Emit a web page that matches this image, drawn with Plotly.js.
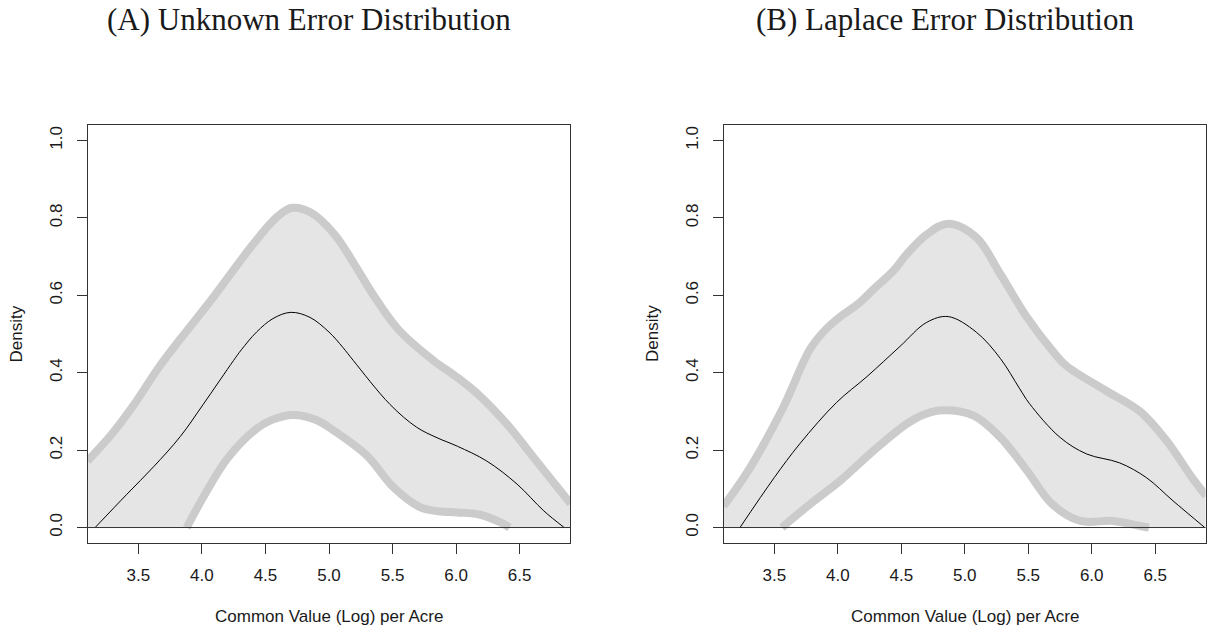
<!DOCTYPE html>
<html>
<head>
<meta charset="utf-8">
<script src="https://cdn.plot.ly/plotly-3.0.1.min.js"></script>
<style>html,body{margin:0;padding:0;background:#fff;}#chart{width:1212px;height:633px;}</style>
</head>
<body>
<div id="chart"></div>
<script>
// ---------- Data ----------
const panelTitles = ["(A) Unknown Error Distribution", "(B) Laplace Error Distribution"];
const xTickVals = [3.5, 4.0, 4.5, 5.0, 5.5, 6.0, 6.5];
const xTickText = ["3.5", "4.0", "4.5", "5.0", "5.5", "6.0", "6.5"];
const yTickVals = [0, 0.2, 0.4, 0.6, 0.8, 1.0];
const yTickText = ["0.0", "0.2", "0.4", "0.6", "0.8", "1.0"];
const xLabel = "Common Value (Log) per Acre";
const yLabel = "Density";

// Panel A: Unknown error distribution
const aMeanX = [3.16, 3.41, 3.62, 3.83, 4.01, 4.25, 4.31, 4.43, 4.56, 4.70, 4.85, 5.00, 5.11, 5.19, 5.48, 5.69, 5.85, 6.01, 6.24, 6.48, 6.69, 6.85];
const aMeanY = [0.000, 0.086, 0.157, 0.235, 0.318, 0.432, 0.459, 0.505, 0.540, 0.556, 0.543, 0.505, 0.465, 0.432, 0.318, 0.259, 0.232, 0.210, 0.172, 0.112, 0.043, 0.000];
const aUpperX = [3.10, 3.30, 3.46, 3.67, 3.83, 4.09, 4.41, 4.60, 4.71, 4.85, 5.04, 5.20, 5.35, 5.55, 5.82, 6.00, 6.17, 6.40, 6.61, 6.90];
const aUpperY = [0.172, 0.245, 0.315, 0.418, 0.487, 0.595, 0.735, 0.805, 0.826, 0.815, 0.759, 0.680, 0.600, 0.510, 0.432, 0.390, 0.345, 0.267, 0.181, 0.062];
const aLowerX = [3.88, 4.04, 4.20, 4.41, 4.55, 4.72, 4.90, 5.04, 5.30, 5.51, 5.72, 5.86, 6.01, 6.19, 6.35, 6.42];
const aLowerY = [0.000, 0.095, 0.178, 0.250, 0.278, 0.291, 0.278, 0.250, 0.185, 0.103, 0.052, 0.042, 0.039, 0.033, 0.013, 0.000];

// Panel B: Laplace error distribution
const bMeanX = [3.23, 3.50, 3.70, 3.99, 4.23, 4.49, 4.70, 4.87, 5.09, 5.28, 5.43, 5.51, 5.75, 5.96, 6.22, 6.43, 6.64, 6.89];
const bMeanY = [0.000, 0.129, 0.216, 0.323, 0.390, 0.468, 0.530, 0.545, 0.505, 0.437, 0.360, 0.320, 0.233, 0.190, 0.167, 0.129, 0.069, 0.000];
const bUpperX = [3.10, 3.31, 3.57, 3.78, 3.90, 4.02, 4.15, 4.28, 4.44, 4.54, 4.70, 4.87, 5.09, 5.28, 5.49, 5.69, 5.80, 6.11, 6.38, 6.59, 6.79, 6.90];
const bUpperY = [0.055, 0.155, 0.310, 0.460, 0.510, 0.545, 0.575, 0.615, 0.664, 0.705, 0.757, 0.785, 0.750, 0.655, 0.543, 0.457, 0.418, 0.354, 0.300, 0.224, 0.129, 0.082];
const bLowerX = [3.56, 3.78, 4.02, 4.28, 4.54, 4.68, 4.83, 5.07, 5.28, 5.49, 5.69, 5.91, 6.17, 6.38, 6.45];
const bLowerY = [0.000, 0.060, 0.121, 0.198, 0.267, 0.292, 0.303, 0.289, 0.233, 0.147, 0.060, 0.017, 0.017, 0.004, 0.000];

// ---------- Styles ----------
const W = 1212, H = 633;
const bandFill = "#e5e5e5", bandLine = "#cbcbcb", axisCol = "#333333", textCol = "#1a1a1a";
const sansFont = "Liberation Sans, Arial, sans-serif";
const serifFont = "Liberation Serif, Times New Roman, serif";

function panelTraces(upX, upY, loX, loY, mX, mY, xa, ya) {
  return [
    {x: upX, y: upY, xaxis: xa, yaxis: ya, type: "scatter", mode: "lines",
     fill: "tozeroy", fillcolor: bandFill,
     line: {color: bandLine, width: 8, shape: "spline", smoothing: 1}, hoverinfo: "skip"},
    {x: loX, y: loY, xaxis: xa, yaxis: ya, type: "scatter", mode: "lines",
     fill: "tozeroy", fillcolor: "#ffffff",
     line: {color: bandLine, width: 8, shape: "spline", smoothing: 1}, hoverinfo: "skip"},
    {x: mX, y: mY, xaxis: xa, yaxis: ya, type: "scatter", mode: "lines",
     line: {color: "#000000", width: 1, shape: "spline", smoothing: 1}}
  ];
}

const data = [].concat(
  panelTraces(aUpperX, aUpperY, aLowerX, aLowerY, aMeanX, aMeanY, "x", "y"),
  panelTraces(bUpperX, bUpperY, bLowerX, bLowerY, bMeanX, bMeanY, "x2", "y2")
);

const yDom = [1 - 543 / H, 1 - 125 / H];
function xAxis(dom, anchor) {
  return {
    domain: dom, anchor: anchor, range: [3.104, 6.896],
    tickmode: "array", tickvals: xTickVals, ticktext: xTickText,
    ticks: "outside", ticklen: 10, tickwidth: 1, tickcolor: axisCol,
    ticklabelstandoff: 7,
    showline: true, mirror: true, linecolor: axisCol, linewidth: 1,
    showgrid: false, zeroline: false,
    tickfont: {family: sansFont, size: 17, color: textCol}
  };
}
function yAxis(anchor) {
  return {
    domain: yDom, anchor: anchor, range: [-0.04, 1.04],
    tickmode: "array", tickvals: yTickVals, ticktext: yTickText,
    ticks: "outside", ticklen: 10, tickwidth: 1, tickcolor: axisCol,
    tickangle: -90, ticklabelstandoff: 8,
    showline: true, mirror: true, linecolor: axisCol, linewidth: 1,
    showgrid: false, zeroline: false,
    tickfont: {family: sansFont, size: 17, color: textCol}
  };
}

const leftDom = [88 / W, 570 / W];
const rightDom = [724 / W, 1205.5 / W];

const layout = {
  width: W, height: H,
  margin: {l: 0, r: 0, t: 0, b: 0},
  paper_bgcolor: "#ffffff", plot_bgcolor: "#ffffff",
  showlegend: false,
  xaxis: xAxis(leftDom, "y"),
  yaxis: yAxis("x"),
  xaxis2: xAxis(rightDom, "y2"),
  yaxis2: yAxis("x2"),
  shapes: [
    {type: "line", xref: "x domain", yref: "y", x0: 0, x1: 1, y0: 0, y1: 0, line: {color: axisCol, width: 1}, layer: "above"},
    {type: "line", xref: "x2 domain", yref: "y2", x0: 0, x1: 1, y0: 0, y1: 0, line: {color: axisCol, width: 1}, layer: "above"}
  ],
  annotations: [
    {text: panelTitles[0], xref: "paper", yref: "paper", x: 308.5 / W, y: 1 - 19 / H, xanchor: "center", yanchor: "middle", showarrow: false,
     font: {family: serifFont, size: 31, color: textCol}},
    {text: panelTitles[1], xref: "paper", yref: "paper", x: 945 / W, y: 1 - 19 / H, xanchor: "center", yanchor: "middle", showarrow: false,
     font: {family: serifFont, size: 31, color: textCol}},
    {text: xLabel, xref: "paper", yref: "paper", x: 328.5 / W, y: 1 - 616 / H, xanchor: "center", yanchor: "middle", showarrow: false,
     font: {family: sansFont, size: 17, color: textCol}},
    {text: xLabel, xref: "paper", yref: "paper", x: 965 / W, y: 1 - 616 / H, xanchor: "center", yanchor: "middle", showarrow: false,
     font: {family: sansFont, size: 17, color: textCol}},
    {text: yLabel, xref: "paper", yref: "paper", x: 15.5 / W, y: 1 - 334 / H, xanchor: "center", yanchor: "middle", textangle: -90, showarrow: false,
     font: {family: sansFont, size: 17, color: textCol}},
    {text: yLabel, xref: "paper", yref: "paper", x: 652 / W, y: 1 - 334 / H, xanchor: "center", yanchor: "middle", textangle: -90, showarrow: false,
     font: {family: sansFont, size: 17, color: textCol}}
  ]
};

Plotly.newPlot("chart", data, layout, {displayModeBar: false, staticPlot: true});
</script>
</body>
</html>
